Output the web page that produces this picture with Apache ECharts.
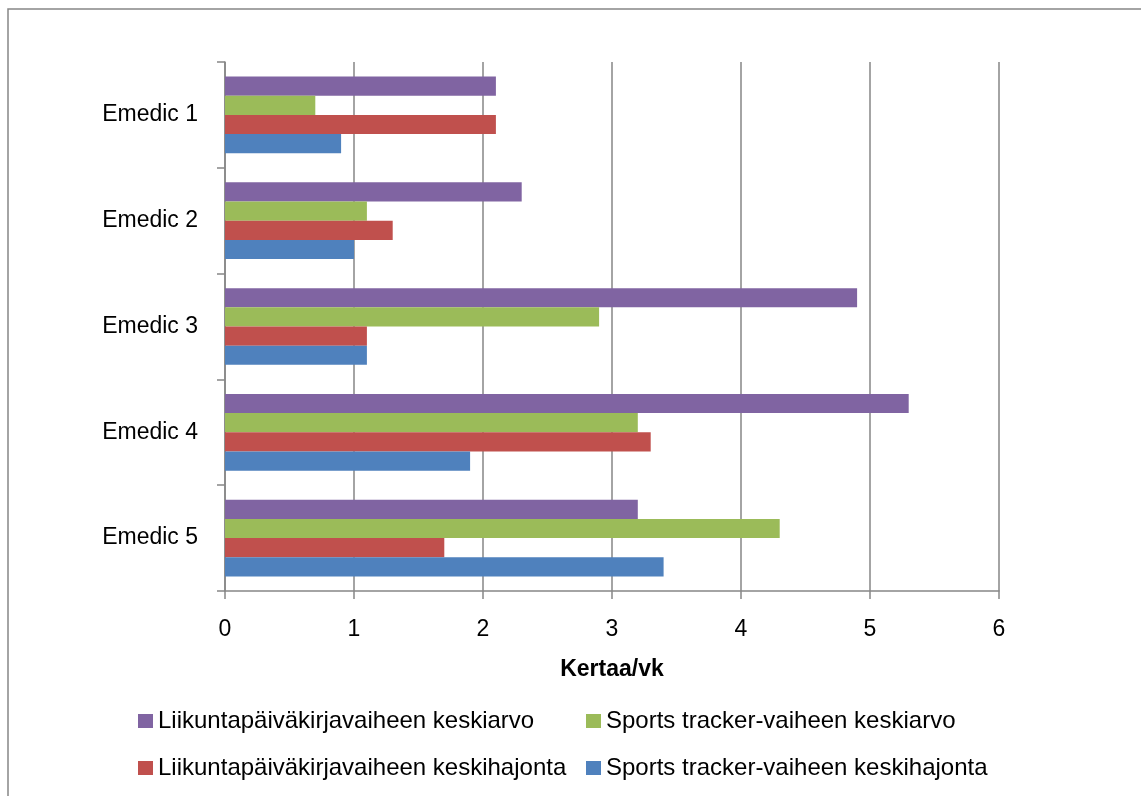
<!DOCTYPE html>
<html>
<head>
<meta charset="utf-8">
<script src="https://cdn.jsdelivr.net/npm/echarts@6/dist/echarts.min.js"></script>
<style>html,body{margin:0;padding:0;background:#fff;}#c{width:1141px;height:796px;}</style>
</head>
<body>
<div id="c"></div>
<script>
const categories = ['Emedic 1', 'Emedic 2', 'Emedic 3', 'Emedic 4', 'Emedic 5'];
const seriesNames = [
  'Liikuntapäiväkirjavaiheen keskiarvo',
  'Sports tracker-vaiheen keskiarvo',
  'Liikuntapäiväkirjavaiheen keskihajonta',
  'Sports tracker-vaiheen keskihajonta'
];
const diaryMean = [2.1, 2.3, 4.9, 5.3, 3.2];
const trackerMean = [0.7, 1.1, 2.9, 3.2, 4.3];
const diarySd = [2.1, 1.3, 1.1, 3.3, 1.7];
const trackerSd = [0.9, 1.0, 1.1, 1.9, 3.4];
const xTicks = [0, 1, 2, 3, 4, 5, 6];
const axisTitle = 'Kertaa/vk';

const colors = ['#8064A2', '#9BBB59', '#C0504D', '#4F81BD'];
const values = [diaryMean, trackerMean, diarySd, trackerSd];
const FONT = 'Liberation Sans';
const GRAY = '#868686';

const legendPos = [
  {left: 138, top: 709},
  {left: 586, top: 709},
  {left: 138, top: 756},
  {left: 586, top: 756}
];

const chart = echarts.init(document.getElementById('c'), null, {renderer: 'canvas'});
chart.setOption({
  animation: false,
  backgroundColor: '#fff',
  color: colors,
  textStyle: {fontFamily: FONT},
  graphic: [{
    type: 'rect', silent: true,
    shape: {x: 8, y: 9, width: 1200, height: 900},
    style: {fill: 'none', stroke: GRAY, lineWidth: 1.5}
  }],
  grid: {left: 225, right: 142, top: 62, bottom: 205, containLabel: false},
  legend: seriesNames.map((n, i) => ({
    data: [n], left: legendPos[i].left, top: legendPos[i].top, padding: 0,
    itemWidth: 15, itemHeight: 14, icon: 'rect',
    textStyle: {fontFamily: FONT, fontSize: 24, color: '#000'}
  })),
  xAxis: {
    type: 'value', min: xTicks[0], max: xTicks[xTicks.length - 1], interval: 1,
    axisLine: {show: true, lineStyle: {color: GRAY, width: 1.5}},
    axisTick: {show: true, length: 8, lineStyle: {color: GRAY, width: 1.5}},
    axisLabel: {fontSize: 23, color: '#000', margin: 27, fontFamily: FONT},
    splitLine: {show: true, lineStyle: {color: GRAY, width: 1.5}},
    name: axisTitle, nameLocation: 'middle', nameGap: 67,
    nameTextStyle: {fontSize: 23, fontWeight: 'bold', color: '#000', fontFamily: FONT}
  },
  yAxis: {
    type: 'category', data: categories, inverse: true,
    axisLine: {show: true, lineStyle: {color: GRAY, width: 1.5}},
    axisTick: {show: true, length: 8, lineStyle: {color: GRAY, width: 1.5}},
    axisLabel: {fontSize: 23, color: '#000', margin: 27, fontFamily: FONT},
    splitLine: {show: false}
  },
  series: seriesNames.map((n, i) => ({
    name: n, type: 'bar', data: values[i],
    barGap: '0%', barCategoryGap: '27.5%',
    itemStyle: {color: colors[i]}
  }))
});
</script>
</body>
</html>
